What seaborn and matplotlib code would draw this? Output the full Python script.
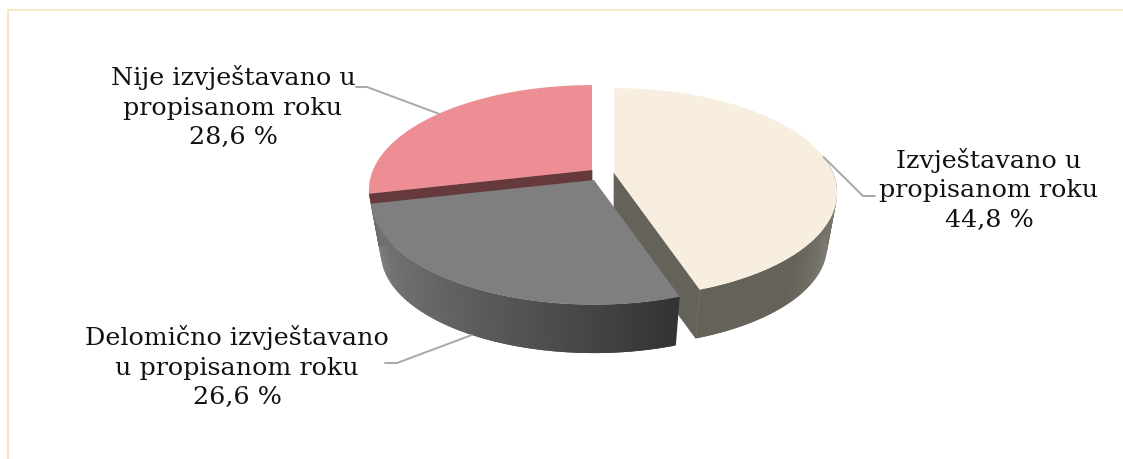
import numpy as np
import matplotlib
matplotlib.use("Agg")
import matplotlib.pyplot as plt
from matplotlib.collections import PolyCollection
import seaborn as sns

# Reporting shares, clockwise from twelve o'clock
categories = ["Izvještavano u\npropisanom roku",
              "Delomično izvještavano\nu propisanom roku",
              "Nije izvještavano u\npropisanom roku"]
shares = [44.8, 26.6, 28.6]
share_labels = ["44,8 %", "26,6 %", "28,6 %"]

# Projection of the tilted disc: perspective factor and radii in pixels
PERSPECTIVE = 0.19
RADIUS_X = 219.0
RADIUS_Y = 101.0
WALL_DROP = 54.0
WALL_SCALE = 0.955

TOP_COLORS = ["#f7eee0", "#7f7f7f", "#ec8e94"]
EDGE_COLORS = ["#65625a", "#4a4a4a", "#663a3d"]
CREAM_RIM = ["#65625a", "#65625a", "#65625a", "#76736a"]
GRAY_RIM = ["#747474", "#5c5c5c", "#484848", "#333333"]
APEXES = [(614.0, 173.0), (594.0, 180.0), (592.0, 170.0)]
LABEL_CENTERS = [(989, 190), (237, 367), (233, 107)]
ELBOWS = [[(863, 196), (875, 196)], [(397, 363), (385, 363)], [(367, 87), (356, 87)]]
LINE_GRAY = "#a8a8a8"
FRAME_COLOR = "#fbe5c6"

sns.set_theme(style="white")
plt.rcParams["font.family"] = ["DejaVu Serif"]

fig = plt.figure(figsize=(11.23, 4.59), dpi=100)
ax = fig.add_axes([0, 0, 1, 1])
ax.set_xlim(0, 1123)
ax.set_ylim(459, 0)
ax.axis("off")


def project(theta, apex, scale=1.0, drop=0.0):
    """Map clockwise angles (degrees from the top) onto the tilted disc."""
    t = np.radians(np.asarray(theta, dtype=float))
    u, v = np.sin(t), np.cos(t)
    w = 1 + PERSPECTIVE * v
    return (apex[0] + scale * RADIUS_X * u / w,
            apex[1] + drop - scale * RADIUS_Y * v / w)


def wall_strips(t0, t1, apex, ramp, zorder):
    """Curved outer wall; each strip runs under the next so no seams appear."""
    thetas = np.linspace(t0, t1, 220)
    tx, ty = project(thetas, apex)
    bx, by = project(thetas, apex, WALL_SCALE, WALL_DROP)
    quads = [[(tx[i], ty[i]), (tx[i + 2], ty[i + 2]), (bx[i + 2], by[i + 2]), (bx[i], by[i])]
             for i in range(len(thetas) - 2)]
    cmap = sns.blend_palette(ramp, as_cmap=True)
    mid_x = (tx[:-2] + bx[:-2]) / 2
    shade = (mid_x - mid_x.min()) / (mid_x.max() - mid_x.min())
    ax.add_collection(PolyCollection(quads, facecolors=cmap(shade), edgecolors="none",
                                     linewidths=0, zorder=zorder))


def top_face(t0, t1, apex, color, zorder):
    thetas = np.linspace(t0, t1, 200)
    x, y = project(thetas, apex)
    ax.fill(np.r_[apex[0], x], np.r_[apex[1], y], color=color, lw=0, zorder=zorder)


def cut_face(theta, apex, color, zorder):
    ex, ey = project(theta, apex)
    bx, by = project(theta, apex, WALL_SCALE, WALL_DROP)
    ax.fill([apex[0], ex, bx, apex[0]], [apex[1], ey, by, apex[1] + WALL_DROP],
            facecolor=color, edgecolor=color, lw=0.5, zorder=zorder)


edges = np.r_[0, np.cumsum(shares)] / np.sum(shares) * 360

# Cream slice, pulled to the right
wall_strips(edges[1], 80, APEXES[0], CREAM_RIM, 1)
cut_face(edges[1], APEXES[0], EDGE_COLORS[0], 1.5)
top_face(edges[0], edges[1], APEXES[0], TOP_COLORS[0], 2)

# Red slice sits behind the grey one, only its cut face shows
cut_face(edges[2], APEXES[2], EDGE_COLORS[2], 3)
top_face(edges[2], edges[3], APEXES[2], TOP_COLORS[2], 6)

# Grey slice in front
wall_strips(edges[1], edges[2], APEXES[1], GRAY_RIM, 4)
top_face(edges[1], edges[2], APEXES[1], TOP_COLORS[1], 5)

# Leader lines start at each slice's mid-angle
mids = (edges[:-1] + edges[1:]) / 2
anchors = [project(mids[0], APEXES[0]),
           project(mids[1], APEXES[1], WALL_SCALE, WALL_DROP),
           project(mids[2], APEXES[2])]
for anchor, elbow in zip(anchors, ELBOWS):
    pts = [anchor] + elbow
    ax.plot([p[0] for p in pts], [p[1] for p in pts], color=LINE_GRAY, lw=1.4,
            solid_joinstyle="round", zorder=7)

for name, pct, (cx, cy) in zip(categories, share_labels, LABEL_CENTERS):
    ax.text(cx, cy, f"{name}\n{pct}", ha="center", va="center", fontsize=18.3,
            linespacing=1.38, color="#111111", zorder=8)

# Open frame: only the left and top rules are visible
ax.plot([8, 8, 1123], [459, 10, 10], color=FRAME_COLOR, lw=1.4, zorder=0)

fig.savefig("out.png", dpi=100)
